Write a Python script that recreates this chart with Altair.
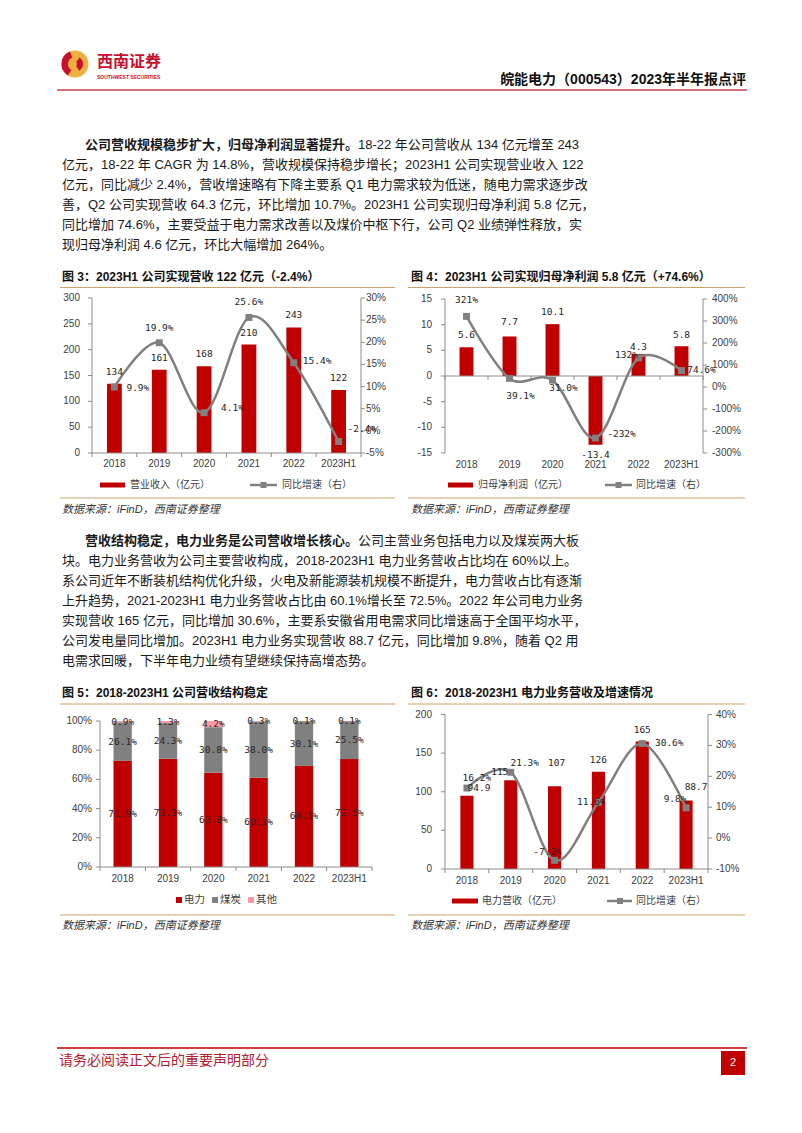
import altair as alt
import pandas as pd

# ---------------- data ----------------
CATS = ["2018", "2019", "2020", "2021", "2022", "2023H1"]

REV = [134, 161, 168, 210, 243, 122]
REV_YOY = [9.9, 19.9, 4.1, 25.6, 15.4, -2.4]

NP = [5.6, 7.7, 10.1, -13.4, 4.3, 5.8]
NP_YOY = [321, 39.1, 31.0, -232, 132, 74.6]

SEGS = ["电力", "煤炭", "其他"]
SEG_POWER = [71.9, 73.3, 63.8, 60.1, 68.1, 72.5]
SEG_COAL = [26.1, 24.3, 30.8, 38.0, 30.1, 25.5]
SEG_OTHER = [0.9, 1.3, 4.2, 0.3, 0.1, 0.1]

PWR = [94.9, 115, 107, 126, 165, 88.7]
PWR_YOY = [16.2, 21.3, -7.2, 11.6, 30.6, 9.8]

T3L = [0, 50, 100, 150, 200, 250, 300]
T3R = [-5, 0, 5, 10, 15, 20, 25, 30]
T4L = [-15, -10, -5, 0, 5, 10, 15]
T4R = [-300, -200, -100, 0, 100, 200, 300, 400]
T5L = [0, 20, 40, 60, 80, 100]
T6L = [0, 50, 100, 150, 200]
T6R = [-10, 0, 10, 20, 30, 40]

HEADER_TITLE = "皖能电力（000543）2023年半年报点评"
P1_BOLD = "公司营收规模稳步扩大，归母净利润显著提升。"
P1_FIRST = "18-22 年公司营收从 134 亿元增至 243"
P1_REST = [
    "亿元，18-22 年 CAGR 为 14.8%，营收规模保持稳步增长；2023H1 公司实现营业收入 122",
    "亿元，同比减少 2.4%，营收增速略有下降主要系 Q1 电力需求较为低迷，随电力需求逐步改",
    "善，Q2 公司实现营收 64.3 亿元，环比增加 10.7%。2023H1 公司实现归母净利润 5.8 亿元，",
    "同比增加 74.6%，主要受益于电力需求改善以及煤价中枢下行，公司 Q2 业绩弹性释放，实",
    "现归母净利润 4.6 亿元，环比大幅增加 264%。",
]
P2_BOLD = "营收结构稳定，电力业务是公司营收增长核心。"
P2_FIRST = "公司主营业务包括电力以及煤炭两大板"
P2_REST = [
    "块。电力业务营收为公司主要营收构成，2018-2023H1 电力业务营收占比均在 60%以上。",
    "系公司近年不断装机结构优化升级，火电及新能源装机规模不断提升，电力营收占比有逐渐",
    "上升趋势，2021-2023H1 电力业务营收占比由 60.1%增长至 72.5%。2022 年公司电力业务",
    "实现营收 165 亿元，同比增加 30.6%，主要系安徽省用电需求同比增速高于全国平均水平，",
    "公司发电量同比增加。2023H1 电力业务实现营收 88.7 亿元，同比增加 9.8%，随着 Q2 用",
    "电需求回暖，下半年电力业绩有望继续保持高增态势。",
]
TITLE3 = "图 3：2023H1 公司实现营收 122 亿元（-2.4%）"
TITLE4 = "图 4：2023H1 公司实现归母净利润 5.8 亿元（+74.6%）"
TITLE5 = "图 5：2018-2023H1 公司营收结构稳定"
TITLE6 = "图 6：2018-2023H1 电力业务营收及增速情况"
SOURCE = "数据来源：iFinD，西南证券整理"
LEG3 = "营业收入（亿元）"
LEG4 = "归母净利润（亿元）"
LEG6 = "电力营收（亿元）"
LEG_YOY = "同比增速（右）"
FOOTER = "请务必阅读正文后的重要声明部分"
PAGE_NO = "2"

# ---------------- style ----------------
RED = "#C00000"
LOGO_RED = "#C8102E"
GREY = "#808080"
PINK = "#FF99A4"
AXIS = "#8C8C8C"
TICK = "#404040"
TAN = "#CBA46C"
LAB = "#262626"
SANS = "Liberation Sans, Noto Sans CJK SC"
CJK = "Noto Sans CJK SC"
MONO = "DejaVu Sans Mono, Noto Sans CJK SC"

ONE = pd.DataFrame({"k": [0]})


def P(x):
    return x - 8


def Q(y):
    return y - 8


def txt(x, y, s, size=13, color="#1a1a1a", weight="normal", align="left",
        font=SANS, style="normal"):
    return alt.Chart(ONE).mark_text(
        text=s, align=align, baseline="middle", fontSize=size, color=color,
        fontWeight=weight, font=font, fontStyle=style,
    ).encode(x=alt.value(P(x)), y=alt.value(Q(y)))


def hline(x1, x2, y, color, width=1):
    return alt.Chart(ONE).mark_rule(color=color, strokeWidth=width).encode(
        x=alt.value(P(x1)), x2=alt.value(P(x2)), y=alt.value(Q(y)))


def vline(x, y1, y2, color, width=1):
    return alt.Chart(ONE).mark_rule(color=color, strokeWidth=width).encode(
        x=alt.value(P(x)), y=alt.value(Q(y1)), y2=alt.value(Q(y2)))


def box(x1, x2, y1, y2, color):
    return alt.Chart(ONE).mark_rect(color=color).encode(
        x=alt.value(P(x1)), x2=alt.value(P(x2)),
        y=alt.value(Q(y1)), y2=alt.value(Q(y2)))


def sq(x, y, size=42):
    return alt.Chart(ONE).mark_point(
        shape="square", filled=True, size=size, color=GREY, opacity=1
    ).encode(x=alt.value(P(x)), y=alt.value(Q(y)))


def xs(x0, x1, pi):
    return alt.Scale(domain=CATS, range=[P(x0), P(x1)],
                     paddingInner=pi, paddingOuter=pi / 2)


def ys(lo, hi, yb, yt):
    return alt.Scale(domain=[lo, hi], range=[Q(yb), Q(yt)], nice=False, zero=False)


def num(v):
    return f"{v:g}"


def pct(v):
    return f"{v:.0f}%" if abs(v) >= 100 else f"{v:.1f}%"


def y_axis(ticks, labels, scale, ax_x, side, lab_x, yb, yt):
    df = pd.DataFrame({"t": ticks, "lab": labels})
    Y = alt.Y("t:Q", scale=scale, axis=None)
    tx2 = ax_x - 4 if side == "left" else ax_x + 4
    return [
        vline(ax_x, yb, yt, AXIS),
        alt.Chart(df).mark_rule(color=AXIS).encode(
            x=alt.value(P(ax_x)), x2=alt.value(P(tx2)), y=Y),
        alt.Chart(df).mark_text(
            align="right" if side == "left" else "left", baseline="middle",
            fontSize=10, font=SANS, color=TICK,
        ).encode(x=alt.value(P(lab_x)), y=Y, text="lab:N"),
    ]


def x_axis(X, x0, x1, y_line, lab_y):
    step = (x1 - x0) / len(CATS)
    dfc = pd.DataFrame({"cat": CATS})
    return [
        hline(x0, x1, y_line, AXIS),
        alt.Chart(dfc).mark_rule(color=AXIS, xOffset=-step / 2).encode(
            x=X, y=alt.value(Q(y_line)), y2=alt.value(Q(y_line + 4))),
        alt.Chart(dfc).transform_filter(alt.datum.cat == CATS[-1]).mark_rule(
            color=AXIS, xOffset=step / 2).encode(
            x=X, y=alt.value(Q(y_line)), y2=alt.value(Q(y_line + 4))),
        alt.Chart(dfc).mark_text(fontSize=10, font=SANS, color=TICK,
                                 baseline="middle").encode(
            x=X, y=alt.value(Q(lab_y)), text="cat:N"),
    ]


def placed_labels(df, X, Y, textf, placements, default=(0, -12, "center")):
    groups = {}
    for c in CATS:
        groups.setdefault(placements.get(c, default), []).append(c)
    out = []
    for (dx, dy, al), cs in groups.items():
        out.append(
            alt.Chart(df).transform_filter(
                alt.FieldOneOfPredicate(field="cat", oneOf=cs)
            ).mark_text(dx=dx, dy=dy, align=al, baseline="middle", fontSize=9.5,
                        font=MONO, color=LAB).encode(x=X, y=Y, text=textf)
        )
    return out


def combo(vals, yoy, x0, x1, pi, yb, yt, ldom, rdom, lticks, rticks,
          lab_l_x, lab_r_x, axis_y, xlab_y, bar_pos, line_pos):
    X = alt.X("cat:N", scale=xs(x0, x1, pi), axis=None, sort=CATS)
    sL = ys(ldom[0], ldom[1], yb, yt)
    sR = ys(rdom[0], rdom[1], yb, yt)
    df = pd.DataFrame({"cat": CATS, "v": vals, "g": yoy,
                       "vl": [num(v) for v in vals], "gl": [pct(g) for g in yoy]})
    YL = alt.Y("v:Q", scale=sL, axis=None)
    YR = alt.Y("g:Q", scale=sR, axis=None)
    left = alt.layer(
        alt.Chart(df).mark_bar(color=RED).encode(x=X, y=YL, y2=alt.datum(0)),
        *y_axis(lticks, [str(t) for t in lticks], sL, x0, "left", lab_l_x, yb, yt),
        *x_axis(X, x0, x1, axis_y, xlab_y),
    )
    right = alt.layer(
        alt.Chart(df).mark_line(color=GREY, strokeWidth=2.5,
                                interpolate="cardinal").encode(x=X, y=YR),
        alt.Chart(df).mark_point(shape="square", filled=True, size=48,
                                 color=GREY, opacity=1).encode(x=X, y=YR),
        *y_axis(rticks, [f"{t}%" for t in rticks], sR, x1, "right", lab_r_x, yb, yt),
    )
    left_lab = alt.layer(*placed_labels(df, X, YL, "vl:N", bar_pos))
    right_lab = alt.layer(*placed_labels(df, X, YR, "gl:N", line_pos))
    return [left, right, left_lab, right_lab]


def stacked():
    x0, x1, pi = 100, 372, 0.596
    yb, yt = 867, 721
    X = alt.X("cat:N", scale=xs(x0, x1, pi), axis=None, sort=CATS)
    sY = ys(0, 1, yb, yt)
    rows = []
    for i, c in enumerate(CATS):
        parts = [SEG_POWER[i], SEG_COAL[i], SEG_OTHER[i]]
        tot = sum(parts)
        acc = 0.0
        for s, v in zip(SEGS, parts):
            rows.append(dict(cat=c, seg=s, y0=acc / tot, y1=(acc + v) / tot,
                             mid=(acc + v / 2) / tot, lab=f"{v:.1f}%"))
            acc += v
    df = pd.DataFrame(rows)
    bars = alt.Chart(df).mark_bar().encode(
        x=X, y=alt.Y("y0:Q", scale=sY, axis=None), y2="y1:Q",
        color=alt.Color("seg:N", scale=alt.Scale(domain=SEGS, range=[RED, GREY, PINK]),
                        legend=None))
    labels = alt.Chart(df).mark_text(font=MONO, fontSize=9.5, color=LAB,
                                     baseline="middle").encode(
        x=X, y=alt.Y("mid:Q", scale=sY, axis=None), text="lab:N")
    return [alt.layer(
        bars,
        *y_axis([t / 100 for t in T5L], [f"{t}%" for t in T5L], sY, x0, "left", 92, yb, yt),
        *x_axis(X, x0, x1, yb, 878.5),
        labels,
    )]


def frame(x0, x1, tx, title, ty, top_y, bot_y, src_y):
    return [
        txt(tx, ty, title, size=12, weight="bold", color="#111111"),
        hline(x0, x1, top_y, TAN, 1),
        hline(x0, x1, bot_y, TAN, 1),
        txt(tx, src_y, SOURCE, size=11, style="italic", color="#333333"),
    ]


def legend_combo(y, rx0, rx1, t1x, t1, gx0, gx1, sqx, t2x):
    return [
        box(rx0, rx1, y - 2.5, y + 2.5, RED),
        txt(t1x, y, t1, size=10, color=TICK, font=CJK),
        hline(gx0, gx1, y, GREY, 2.5),
        sq(sqx, y, 36),
        txt(t2x, y, LEG_YOY, size=10, color=TICK, font=CJK),
    ]


layers = []

# ---------------- header ----------------
layers += [
    alt.Chart(ONE).mark_arc(theta=0, theta2=6.2832, radius=13.5, radius2=0,
                            color="#F0B040").encode(x=alt.value(P(75)), y=alt.value(Q(64))),
    alt.Chart(ONE).mark_arc(theta=3.7, theta2=5.9, radius=13.5, radius2=7,
                            color=LOGO_RED).encode(x=alt.value(P(75)), y=alt.value(Q(64))),
    alt.Chart(ONE).mark_arc(theta=0.6, theta2=2.6, radius=8, radius2=2,
                            color=LOGO_RED).encode(x=alt.value(P(75)), y=alt.value(Q(64))),
    txt(97, 62, "西南证券", size=16, color=LOGO_RED, weight="bold", font=CJK),
    txt(97, 76.5, "SOUTHWEST SECURITIES", size=5, color=LOGO_RED, weight="bold",
        font="Liberation Sans"),
    txt(746, 80, HEADER_TITLE, size=14, weight="bold", align="right", color="#111111"),
    hline(57, 747, 90, "#D6707C", 2),
]

# ---------------- paragraphs ----------------
LH = 20
layers += [txt(85, 145, P1_BOLD, weight="bold"), txt(85 + 13 * len(P1_BOLD), 145, P1_FIRST)]
for i, line in enumerate(P1_REST):
    layers.append(txt(62, 145 + LH * (i + 1), line))
layers += [txt(85, 541, P2_BOLD, weight="bold"), txt(85 + 13 * len(P2_BOLD), 541, P2_FIRST)]
for i, line in enumerate(P2_REST):
    layers.append(txt(62, 541 + LH * (i + 1), line))

# ---------------- chart 3 ----------------
layers += frame(60, 395, 62, TITLE3, 276.5, 287.5, 498, 509.5)
layers += combo(
    REV, REV_YOY, 92, 361, 0.67, 453, 298, (0, 300), (-5, 30), T3L, T3R,
    80, 366, 453, 463.5,
    {},
    {"2018": (12, 1, "left"), "2019": (0, -15, "center"), "2020": (17, -5, "left"),
     "2021": (0, -15, "center"), "2022": (9, -2, "left"), "2023H1": (9, -12, "left")},
)
layers += legend_combo(485, 100, 125, 130, LEG3, 250, 277, 263.5, 282)

# ---------------- chart 4 ----------------
layers += frame(408, 745, 411, TITLE4, 276.5, 287.5, 498, 509.5)
layers += combo(
    NP, NP_YOY, 445, 703, 0.676, 453, 299, (-15, 15), (-300, 400), T4L, T4R,
    432, 712, 376, 464.5,
    {"2019": (0, -14, "center"), "2021": (0, 10, "center"),
     "2022": (0, -7, "center"), "2023H1": (0, -11, "center")},
    {"2018": (0, -16, "center"), "2019": (11, 18, "center"), "2020": (11, 8, "center"),
     "2021": (26, -4, "center"), "2022": (-12, -3, "center"), "2023H1": (20, -1, "center")},
)
layers += legend_combo(485, 448, 473, 478, LEG4, 605, 632, 618.5, 636)

# ---------------- chart 5 ----------------
layers += frame(60, 395, 62, TITLE5, 692.5, 704, 915, 926)
layers += stacked()
layers += [
    box(176, 182, 897, 903, RED), txt(184, 900, SEGS[0], size=10.5, color=TICK, font=CJK),
    box(212, 218, 897, 903, GREY), txt(220, 900, SEGS[1], size=10.5, color=TICK, font=CJK),
    box(248, 254, 897, 903, PINK), txt(256, 900, SEGS[2], size=10.5, color=TICK, font=CJK),
]

# ---------------- chart 6 ----------------
layers += frame(408, 745, 411, TITLE6, 692.5, 704, 915, 926)
layers += combo(
    PWR, PWR_YOY, 445, 708, 0.70, 869, 714.5, (0, 200), (-10, 40), T6L, T6R,
    432, 716, 869, 881,
    {"2018": (12, -8, "center"), "2019": (-11, -8, "center"), "2020": (2, -23, "center"),
     "2023H1": (10, -13, "center")},
    {"2018": (10, -10.5, "center"), "2019": (14, -9, "center"), "2020": (-7, -8, "center"),
     "2021": (-7, 0, "center"), "2022": (27, -1, "center"), "2023H1": (-11, -9, "center")},
)
layers += legend_combo(901, 452, 478, 482, LEG6, 607, 632, 620, 636)

# ---------------- footer ----------------
layers += [
    hline(57, 747, 1048, RED, 1.5),
    txt(59, 1061, FOOTER, size=14, color="#B5202E", font=CJK),
    box(721, 745, 1051, 1075, RED),
    txt(733, 1063, PAGE_NO, size=11, color="#FFFFFF", align="center"),
]

chart = alt.layer(*layers).resolve_scale(
    x="independent", y="independent"
).properties(
    width=786, height=1100, padding=0,
    autosize=alt.AutoSizeParams(type="none"),
).configure_view(strokeWidth=0)

chart.save("out.html", embed_options={"renderer": "svg", "actions": False})
